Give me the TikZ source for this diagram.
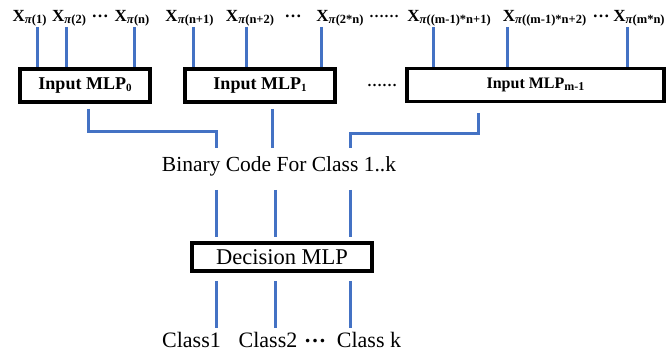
\documentclass[tikz,border=0pt]{standalone}
\usepackage{fontspec}
\setmainfont{Liberation Serif}
\definecolor{lineblue}{RGB}{68,114,196}
\newcommand\xlab[1]{\textbf{X}\raisebox{-1.5pt}{\fontsize{12.5}{12.5}\selectfont\textbf{\textit{π}(#1)}}}
\newcommand\hdots{\raisebox{4pt}{\textbf{…}}}
\begin{document}
\begin{tikzpicture}[x=1pt,y=-1pt,
  lab/.style={font=\fontsize{17}{17}\selectfont, anchor=base, inner sep=0pt},
  conn/.style={draw=lineblue, line width=3pt},
  mlpbox/.style={draw=black, line width=3.2pt, inner sep=0pt, fill=white},
  big/.style={font=\fontsize{21.5}{21.5}\selectfont, anchor=base, inner sep=0pt}]
\useasboundingbox (0,0) rectangle (667,352);
% top labels
\node[lab] (x1) at (29.5,22) {\xlab{1}};
\node[lab] (x2) at (69,22) {\xlab{2}};
\node[lab] (dd1) at (100,22) {\hdots};
\node[lab] (x3) at (132,22) {\xlab{n}};
\node[lab] (x4) at (189.5,22) {\xlab{n+1}};
\node[lab] (x5) at (250,22) {\xlab{n+2}};
\node[lab] (dd2) at (293,22) {\hdots};
\node[lab] (x6) at (340,22) {\xlab{2*n}};
\node[lab, font=\fontsize{15}{15}\selectfont] (dd3) at (384,22) {\hdots\hdots};
\node[lab] (x7) at (449,22) {\xlab{(m-1)*n+1}};
\node[lab] (x8) at (544.5,22) {\xlab{(m-1)*n+2}};
\node[lab] (dd4) at (601,22) {\hdots};
\node[lab] (x9) at (639,22) {\xlab{m*n}};
% boxes
\node[mlpbox, minimum width=130pt, minimum height=33pt, font=\fontsize{18}{18}\selectfont] (b0) at (85,85.5)
  {\textbf{Input MLP\raisebox{-2pt}{\fontsize{11}{11}\selectfont 0}}};
\node[mlpbox, minimum width=150pt, minimum height=33pt, font=\fontsize{18}{18}\selectfont] (b1) at (260,85.5)
  {\textbf{Input MLP\raisebox{-2pt}{\fontsize{11}{11}\selectfont 1}}};
\node[lab, font=\fontsize{15}{15}\selectfont] (bd) at (382,91) {\hdots\hdots};
\node[mlpbox, minimum width=257pt, minimum height=33pt, font=\fontsize{16}{16}\selectfont] (b2) at (535.5,85)
  {\textbf{Input MLP\raisebox{-1.5pt}{\fontsize{12}{12}\selectfont m-1}}};
% input connectors
\coordinate (t1) at (37,27);
\coordinate (t2) at (66,27);
\coordinate (t3) at (134,27);
\coordinate (t4) at (193,27);
\coordinate (t5) at (246,27);
\coordinate (t6) at (321,27);
\coordinate (t7) at (433,27);
\coordinate (t8) at (507,27);
\coordinate (t9) at (627,27);
\foreach \t/\b in {t1/b0,t2/b0,t3/b0,t4/b1,t5/b1,t6/b1,t7/b2,t8/b2,t9/b2}
  \draw[conn] (\t) -- (\t |- \b.north);
% binary code
\node[big] (bin) at (279,172) {Binary Code For Class 1..k};
\coordinate (o0) at (88,109);
\coordinate (o1) at (272,109);
\coordinate (o2) at (478,113);
\coordinate (i1) at (216,148);
\coordinate (i2) at (272,148);
\coordinate (i3) at (350,148);
\draw[conn] (o0) |- (216,132) -- (i1);
\draw[conn] (o1) -- (i2);
\draw[conn] (o2) |- (350,134) -- (i3);
% decision
\node[mlpbox, minimum width=180pt, minimum height=28pt, font=\fontsize{22.5}{22.5}\selectfont] (dec) at (282,257) {Decision MLP};
\coordinate (d1) at (216,190);
\coordinate (d2) at (275,190);
\coordinate (d3) at (350,190);
\coordinate (e1) at (216,237);
\coordinate (e2) at (275,237);
\coordinate (e3) at (350,237);
\draw[conn] (d1) -- (e1);
\draw[conn] (d2) -- (e2);
\draw[conn] (d3) -- (e3);
\coordinate (f1) at (216,281);
\coordinate (f2) at (275,281);
\coordinate (f3) at (350,281);
\coordinate (g1) at (216,328);
\coordinate (g2) at (275,328);
\coordinate (g3) at (350,328);
\draw[conn] (f1) -- (g1);
\draw[conn] (f2) -- (g2);
\draw[conn] (f3) -- (g3);
% classes
\node[big, font=\fontsize{22}{22}\selectfont] (c1) at (191.5,348) {Class1};
\node[big, font=\fontsize{22}{22}\selectfont] (c2) at (268,348) {Class2};
\node[big, font=\fontsize{22}{22}\selectfont] (cd) at (315,348) {\raisebox{5pt}{\textbf{…}}};
\node[big, font=\fontsize{22}{22}\selectfont] (c3) at (369,348) {Class k};
\end{tikzpicture}
\end{document}
